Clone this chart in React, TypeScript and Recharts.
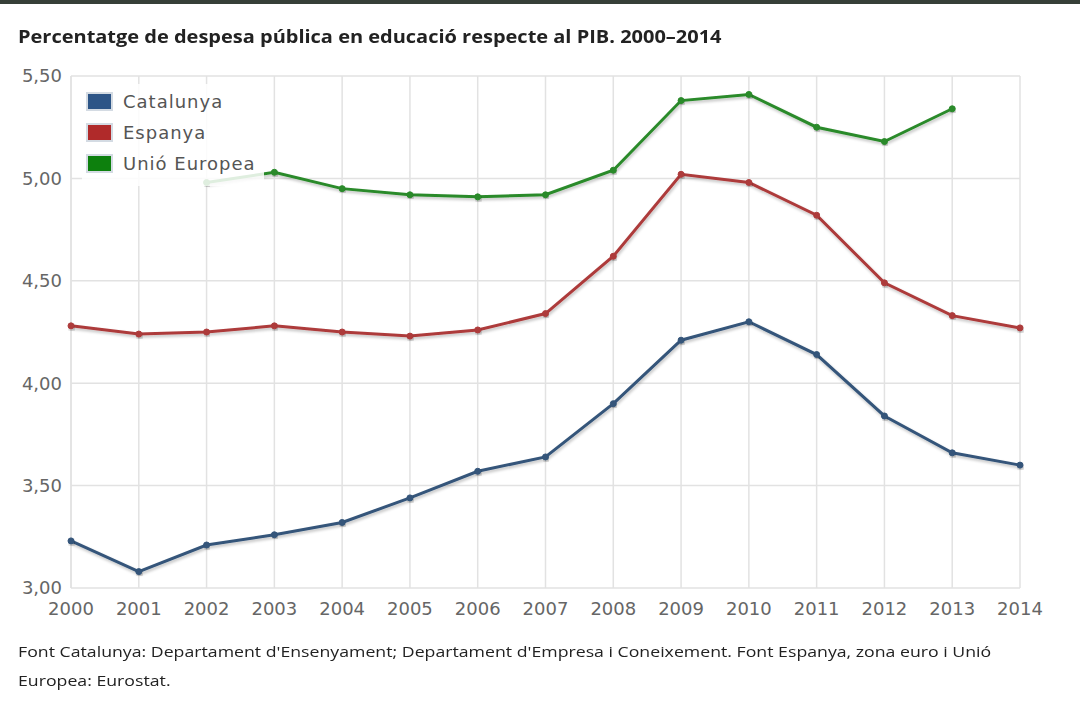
import React from 'react';
import { LineChart, Line, XAxis, YAxis, CartesianGrid, Legend } from 'recharts';

const years = ['2000','2001','2002','2003','2004','2005','2006','2007','2008','2009','2010','2011','2012','2013','2014'];
const catalunya = [3.23, 3.08, 3.21, 3.26, 3.32, 3.44, 3.57, 3.64, 3.90, 4.21, 4.30, 4.14, 3.84, 3.66, 3.60];
const espanya = [4.28, 4.24, 4.25, 4.28, 4.25, 4.23, 4.26, 4.34, 4.62, 5.02, 4.98, 4.82, 4.49, 4.33, 4.27];
const ue: (number | null)[] = [null, null, 4.98, 5.03, 4.95, 4.92, 4.91, 4.92, 5.04, 5.38, 5.41, 5.25, 5.18, 5.34, null];
const yTicks = [3, 3.5, 4, 4.5, 5, 5.5];

const seriesInfo = [
  { key: 'cat', name: 'Catalunya', color: '#34557a', swatch: '#2d5587' },
  { key: 'esp', name: 'Espanya', color: '#ad3b3b', swatch: '#b02a2a' },
  { key: 'ue', name: 'Unió Europea', color: '#2a8a2a', swatch: '#0d800d' },
];

const data = years.map((y, i) => ({ year: y, cat: catalunya[i], esp: espanya[i], ue: ue[i] }));

const fmt = (v: number) => v.toFixed(2).replace('.', ',');

const axisFont = { fontFamily: 'DejaVu Sans', fontSize: 18, fill: '#666' };

const LegendBox = () => (
  <div style={{ background: 'rgba(255,255,255,0.85)', width: 182, height: 102, boxSizing: 'border-box', paddingTop: 2, paddingLeft: 4 }}>
    {seriesInfo.map((s) => (
      <div key={s.key} style={{ display: 'flex', alignItems: 'center', height: 31 }}>
        <div style={{ width: 23, height: 15, background: s.swatch, border: '2px solid #d4dbe3', marginRight: 10 }} />
        <span style={{ fontFamily: 'DejaVu Sans', fontSize: 18, letterSpacing: 1, color: '#555' }}>{s.name}</span>
      </div>
    ))}
  </div>
);

export default function App() {
  return (
    <div style={{ position: 'absolute', left: 0, top: 0, width: 1080, height: 715, background: '#fff', overflow: 'hidden' }}>
      <div style={{ position: 'absolute', left: 0, top: 0, width: 1080, height: 4, background: '#363f38' }} />
      <div style={{ position: 'absolute', left: 18, top: 24, fontFamily: 'Open Sans', fontWeight: 700, fontSize: 18, color: '#222', whiteSpace: 'nowrap', transform: 'scaleX(1.11)', transformOrigin: '0 0' }}>
        Percentatge de despesa pública en educació respecte al PIB. 2000–2014
      </div>
      <div style={{ position: 'absolute', left: 0, top: 0 }}>
        <LineChart width={1080} height={630} data={data} margin={{ top: 76, right: 60, bottom: 12, left: 0 }}>
          <defs>
            <filter id="shadow" x="-5%" y="-20%" width="110%" height="140%">
              <feGaussianBlur in="SourceAlpha" stdDeviation="1.5" />
              <feOffset dx="1" dy="2" result="b" />
              <feComponentTransfer><feFuncA type="linear" slope="0.25" /></feComponentTransfer>
              <feMerge><feMergeNode /><feMergeNode in="SourceGraphic" /></feMerge>
            </filter>
          </defs>
          <CartesianGrid stroke="#e2e2e2" strokeWidth={1.5} />
          <XAxis dataKey="year" axisLine={false} tickLine={false} tickSize={0} tickMargin={14} tick={axisFont} interval={0} height={30} />
          <YAxis domain={[3, 5.5]} ticks={yTicks} tickFormatter={fmt} axisLine={false} tickLine={false} tickSize={0} tickMargin={9} width={71} tick={axisFont} />
          <Legend verticalAlign="middle" layout="horizontal" content={() => <LegendBox />} wrapperStyle={{ left: 82, top: 84, width: 182, height: 102 }} />
          {seriesInfo.map((s) => (
            <Line key={s.key} type="linear" dataKey={s.key} name={s.name} stroke={s.color} strokeWidth={3}
              dot={{ r: 3, fill: s.color, stroke: s.color, strokeWidth: 1 }} isAnimationActive={false}
              filter="url(#shadow)" connectNulls={false} />
          ))}
        </LineChart>
      </div>
      <div style={{ position: 'absolute', left: 18, top: 637, fontFamily: 'Open Sans', fontSize: 15, color: '#222', lineHeight: '29px', whiteSpace: 'nowrap', transform: 'scaleX(1.18)', transformOrigin: '0 0' }}>
        Font Catalunya: Departament d'Ensenyament; Departament d'Empresa i Coneixement. Font Espanya, zona euro i Unió
        <br />
        Europea: Eurostat.
      </div>
    </div>
  );
}
